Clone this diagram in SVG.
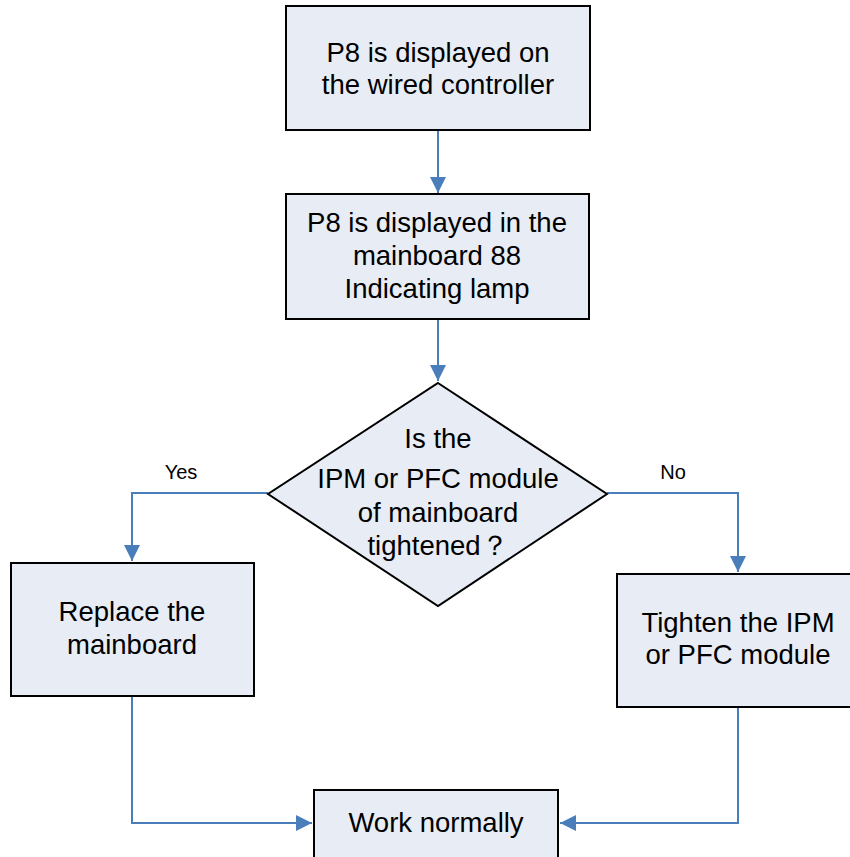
<svg xmlns="http://www.w3.org/2000/svg" width="850" height="857" viewBox="0 0 850 857">
<style>
.box{fill:#e7ecf5;stroke:#000;stroke-width:2}
.t{font-family:"Liberation Sans",Arial,sans-serif;font-size:27.5px;fill:#000;text-anchor:middle}
.lbl{font-family:"Liberation Sans",Arial,sans-serif;font-size:20px;fill:#000;text-anchor:middle}
.c{fill:none;stroke:#4a7ebb;stroke-width:2}
</style>
<defs>
<marker id="ah" viewBox="0 0 10 10" refX="10" refY="5" markerWidth="8" markerHeight="8" markerUnits="strokeWidth" orient="auto">
<path d="M0,0 L10,5 L0,10 z" fill="#4a7ebb"/>
</marker>
</defs>
<rect width="850" height="857" fill="#fff"/>
<g id="connectors">
<line class="c" x1="438" y1="131" x2="438" y2="193" marker-end="url(#ah)"/>
<line class="c" x1="438" y1="320" x2="438" y2="381" marker-end="url(#ah)"/>
<polyline class="c" points="268,493 132,493 132,561" marker-end="url(#ah)"/>
<polyline class="c" points="607,493 738,493 738,572" marker-end="url(#ah)"/>
<polyline class="c" points="132,697 132,823 312,823" marker-end="url(#ah)"/>
<polyline class="c" points="738,708 738,823 560,823" marker-end="url(#ah)"/>
<text class="lbl" x="181" y="479">Yes</text>
<text class="lbl" x="673" y="479">No</text>
</g>
<g id="n1">
<rect class="box" x="286" y="6" width="304" height="124"/>
<text class="t" x="438" y="62">P8 is displayed on</text>
<text class="t" x="438" y="94">the wired controller</text>
</g>
<g id="n2">
<rect class="box" x="286" y="194" width="303" height="125"/>
<text class="t" x="437" y="232">P8 is displayed in the</text>
<text class="t" x="437" y="265">mainboard 88</text>
<text class="t" x="437" y="298">Indicating lamp</text>
</g>
<g id="n3">
<polygon class="box" points="438,383 607,494 438,606 268,494"/>
<text class="t" x="438" y="448">Is the</text>
<text class="t" x="438" y="488">IPM or PFC module</text>
<text class="t" x="438" y="522">of mainboard</text>
<text class="t" x="438" y="555">tightened？</text>
</g>
<g id="n4">
<rect class="box" x="11" y="563" width="243" height="133"/>
<text class="t" x="132" y="621">Replace the</text>
<text class="t" x="132" y="654">mainboard</text>
</g>
<g id="n5">
<rect class="box" x="617" y="574" width="242" height="133"/>
<text class="t" x="738" y="632">Tighten the IPM</text>
<text class="t" x="738" y="664">or PFC module</text>
</g>
<g id="n6">
<rect class="box" x="314" y="790" width="244" height="72"/>
<text class="t" x="436" y="832">Work normally</text>
</g>
</svg>
